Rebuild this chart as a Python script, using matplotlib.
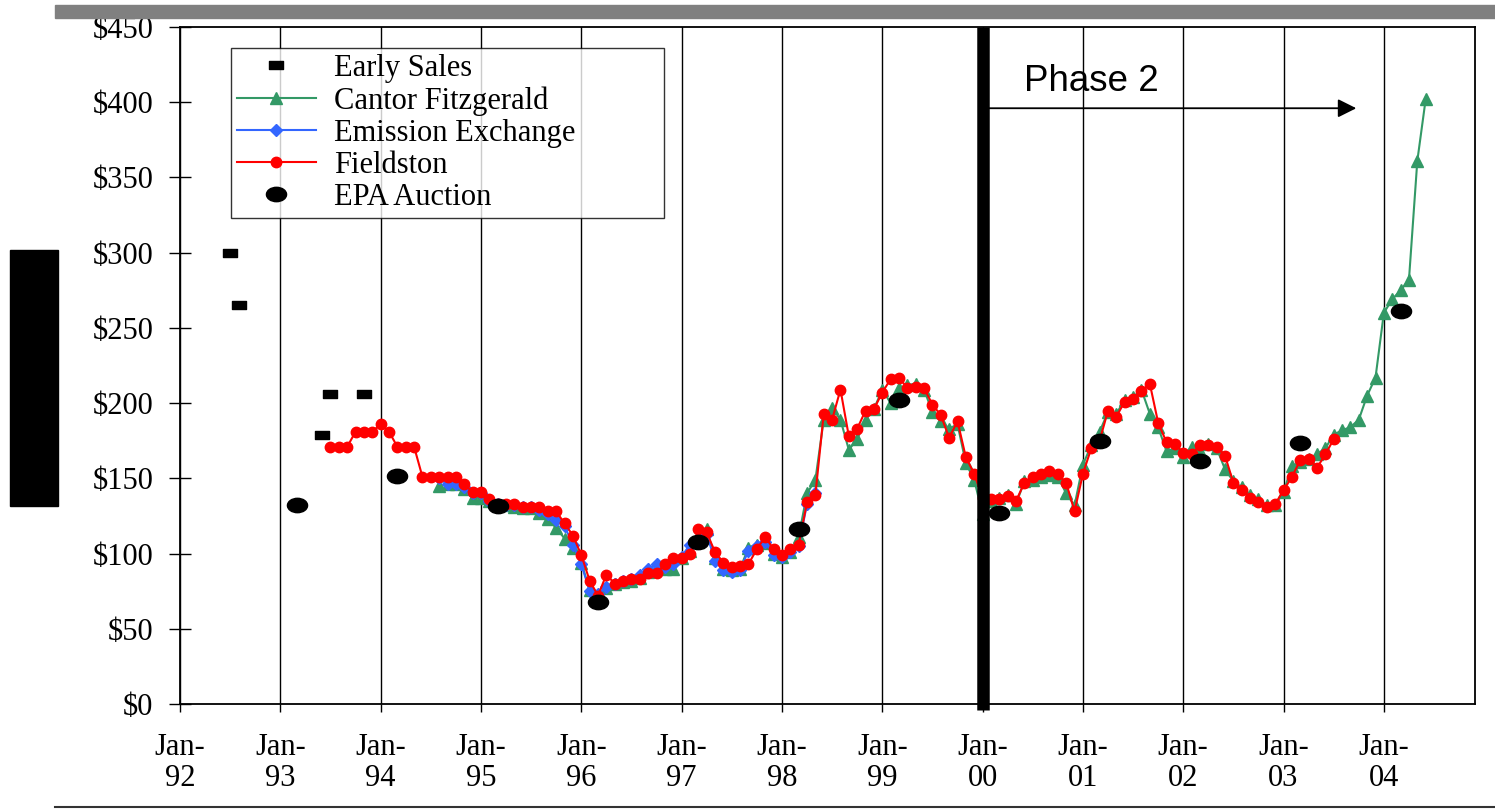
import numpy as np
import matplotlib.pyplot as plt
from matplotlib.patches import Rectangle
from matplotlib.lines import Line2D
from matplotlib.path import Path
from matplotlib.transforms import Affine2D

# months counted from Jan-92 (0 = Jan-92)
early_m = [6, 7, 17, 18, 22]
early_v = [300, 265, 179, 206, 206]

auction_m = [14, 26, 38, 50, 62, 74, 86, 98, 110, 122, 134, 146]
auction_v = [132, 151.5, 131.5, 67.5, 108, 116.5, 202, 127, 175, 161.5, 173.5, 261]

fieldston_start = 18
fieldston_v = [171, 171, 171, 181, 181, 181, 186, 181, 171, 171, 171,
               151, 151, 151, 151, 151, 146, 141, 141, 136, 133, 133, 133,
               131, 131, 131, 128, 128, 120, 112, 99, 82, 72,
               86, 80, 82, 83, 83, 87, 87, 93, 97, 97,
               100, 116, 114, 101, 94, 91, 92, 93, 103, 111,
               103, 99, 103, 106, 134, 139, 193, 189, 209, 178,
               183, 195, 196, 207, 216, 217, 210, 211, 210, 199,
               192, 177, 188, 164, 153, 137, 136, 136, 138, 135,
               147, 151, 153, 155, 153, 147, 128, 153, 170, 175,
               195, 191, 201, 203, 208, 213, 187, 174, 173, 167,
               166, 172, 172, 171, 165, 147, 142, 137, 134, 131,
               133, 142, 151, 162, 163, 157, 166, 176]

cantor_start = 31
cantor_v = [145, 146, 146, 143, 137, 137, 135, 132, 132, 131,
            130, 130, 127, 123, 117, 110, 104, 94, 76, 72,
            77, 80, 81, 82, 84, 88, 91, 90, 90, 97,
            102, 108, 116, 97, 90, 89, 90, 104, 106, 107,
            100, 98, 101, 111, 140, 149, 189, 197, 189, 169,
            176, 189, 196, 209, 200, 210, 212, 213, 209, 194,
            188, 183, 186, 160, 149, 126, 135, 137, 139, 133,
            148, 149, 151, 152, 151, 140, 132, 159, 172, 181,
            194, 193, 202, 204, 209, 193, 184, 168, 170, 164,
            171, 168, 173, 170, 156, 148, 144, 139, 136, 132,
            132, 141, 158, 161, 163, 166, 170, 179, 182, 184,
            189, 205, 217, 260, 269, 275, 282, 361, 402]

emission_start = 31
emission_v = [150, 146, 146, 144, 140, 140, 135, 133, 132, 132,
              131, 131, 129, 126, 122, 118, 106, 93, 75, 73,
              78, 80, 82, 83, 86, 90, 93, 91, 93, 98,
              106, 110, 113, 95, 89, 88, 89, 102, 105, 108,
              99, 98, 101, 105, 133, 140]

year_ticks = [0, 12, 24, 36, 48, 60, 72, 84, 96, 108, 120, 132, 144]
year_labels = ["Jan-\n92", "Jan-\n93", "Jan-\n94", "Jan-\n95", "Jan-\n96", "Jan-\n97",
               "Jan-\n98", "Jan-\n99", "Jan-\n00", "Jan-\n01", "Jan-\n02", "Jan-\n03",
               "Jan-\n04"]
phase2_m = 96

plt.rcParams['font.family'] = "Liberation Serif"

# the original picture is stretched sideways, so use wide markers
wide_rect = Path([(-1, -0.6), (1, -0.6), (1, 0.6), (-1, 0.6), (-1, -0.6)],
                 [Path.MOVETO, Path.LINETO, Path.LINETO, Path.LINETO, Path.CLOSEPOLY])
wide_dot = Path.unit_circle().transformed(Affine2D().scale(1.4, 1.0))

fig = plt.figure(figsize=(14.95, 8.10), dpi=100)
ax = fig.add_axes([180/1495, 1-704/810, 1295/1495, 677/810])

fm = np.arange(fieldston_start, fieldston_start + len(fieldston_v))
cm = np.arange(cantor_start, cantor_start + len(cantor_v))
em = np.arange(emission_start, emission_start + len(emission_v))

ax.plot(early_m, early_v, ls='none', marker=wide_rect, ms=9.5, color='black',
        label='Early Sales', zorder=5)
ax.plot(cm, cantor_v, color='#339966', lw=1.5, marker='^', ms=8,
        label='Cantor Fitzgerald', zorder=3)
ax.plot(em, emission_v, color='#3366FF', lw=1.5, marker='D', ms=6,
        label='Emission Exchange', zorder=3.5)
ax.plot(fm, fieldston_v, color='#FF0000', lw=1.5, marker='o', ms=7.5,
        label='Fieldston', zorder=4)
ax.plot(auction_m, auction_v, ls='none', marker=wide_dot, ms=14.5, color='black',
        label='EPA Auction', zorder=6)

ax.set_xlim(0, 154.9)
ax.set_ylim(0, 450)
ax.set_yticks(np.arange(0, 451, 50))
ax.set_yticklabels(['$' + str(v) for v in range(0, 451, 50)])
ax.set_xticks(year_ticks)
ax.set_xticklabels(year_labels, linespacing=1.1)
ax.tick_params(axis='y', direction='inout', length=16, width=1, labelsize=22, pad=11)
ax.tick_params(axis='x', direction='out', length=6, width=1, labelsize=22, pad=15)
ax.grid(axis='x', color='black', lw=1)
for s in ax.spines.values():
    s.set_linewidth(1.3)

# phase 2 marker
ax.plot([phase2_m, phase2_m], [-4, 450], color='black', lw=9, clip_on=False,
        solid_capstyle='butt', zorder=7)
ax.annotate('', xy=(140.7, 396), xytext=(96.8, 396),
            arrowprops=dict(arrowstyle='-|>', color='black', lw=1.3,
                            mutation_scale=28, shrinkA=0, shrinkB=0))
ax.text(101, 414, 'Phase 2', fontsize=26.5, family='Liberation Sans', va='center')

leg = ax.legend(loc='upper left', bbox_to_anchor=(0.039, 0.969, 0.335, 0),
                mode='expand', fontsize=22, frameon=True, fancybox=False,
                edgecolor='black', borderaxespad=0, borderpad=0.2,
                labelspacing=0.1, handlelength=2.6, handletextpad=0.6)
leg.get_frame().set_linewidth(1)

# decorations around the chart
fig.patches.append(Rectangle((55/1495, 1-18/810), 1440/1495, 13/810,
                             transform=fig.transFigure, color='#808080'))
fig.patches.append(Rectangle((10/1495, 1-506/810), 48/1495, 256/810,
                             transform=fig.transFigure, color='black'))
fig.lines.append(Line2D([55/1495, 1], [1-807/810, 1-807/810],
                        transform=fig.transFigure, color='#333333', lw=1.5))

fig.savefig('out.png', dpi=100)
